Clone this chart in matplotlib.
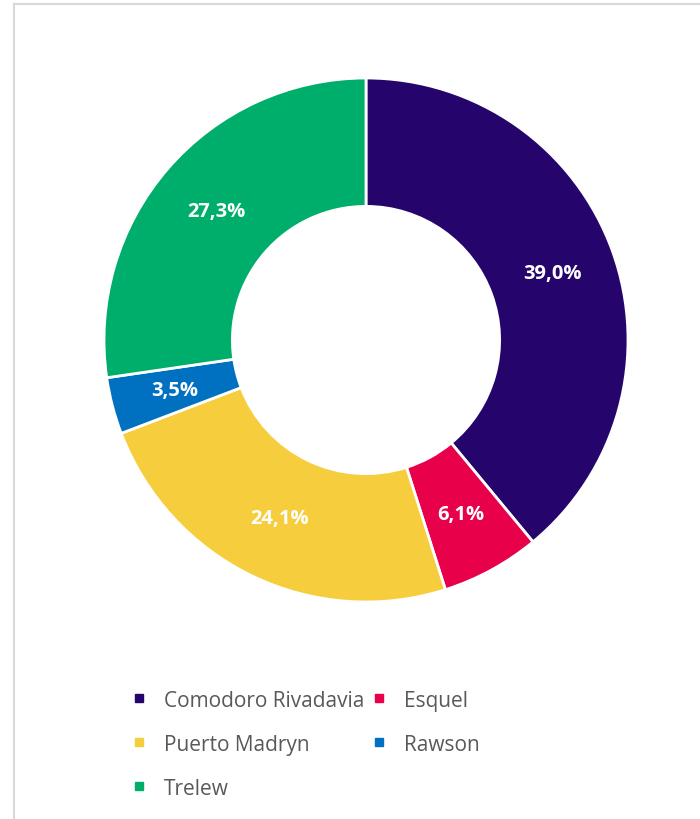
import matplotlib
matplotlib.use("Agg")
import matplotlib.pyplot as plt
from matplotlib.lines import Line2D

categories = ["Comodoro Rivadavia", "Esquel", "Puerto Madryn", "Rawson", "Trelew"]
values = [39.0, 6.1, 24.1, 3.5, 27.3]
colors = ["#25046B", "#E8004B", "#F6CE3D", "#0070C0", "#00AE6B"]

W, H = 700, 820
fig = plt.figure(figsize=(7, 8.2), dpi=100)
fig.patch.set_facecolor("white")

# frame (cropped chart border)
fig.add_artist(Line2D([14/W, 14/W], [0, 1 - 5/H], color="#D9D9D9", lw=1.5, transform=fig.transFigure))
fig.add_artist(Line2D([14/W, 1], [1 - 5/H, 1 - 5/H], color="#D9D9D9", lw=1.5, transform=fig.transFigure))

cx, cy, R = 366, 341, 262
ax = fig.add_axes([(cx - R)/W, (H - cy - R)/H, 2*R/W, 2*R/H])

wedges, texts, autotexts = ax.pie(
    values, colors=colors, startangle=90, counterclock=False, radius=1,
    wedgeprops=dict(width=0.49, edgecolor="white", linewidth=2),
    autopct=lambda p: "", pctdistance=0.755)
ax.set_xlim(-1, 1)
ax.set_ylim(-1, 1)
ax.set_aspect("equal")
ax.axis("off")
for at, v in zip(autotexts, values):
    at.set_text(f"{v:.1f}%".replace(".", ","))
    at.set_color("white")
    at.set_fontweight("bold")
    at.set_fontsize(14.5)
    at.set_family("Open Sans")

# legend, row-major order as in the reference
order = [0, 2, 4, 1, 3]
handles = [Line2D([], [], marker="s", linestyle="none", markersize=6,
                  markerfacecolor=colors[i], markeredgecolor=colors[i]) for i in order]
labels = [categories[i] for i in order]
leg = fig.legend(handles, labels, ncol=2, loc="upper left",
                 bbox_to_anchor=(112/W, 1 - 672/H), frameon=False,
                 prop={"family": "Open Sans", "size": 15},
                 labelspacing=1.1, columnspacing=0.3, handlelength=0.8, handletextpad=0.8)
for t in leg.get_texts():
    t.set_color("#595959")

fig.savefig("out.png", dpi=100, facecolor="white")
